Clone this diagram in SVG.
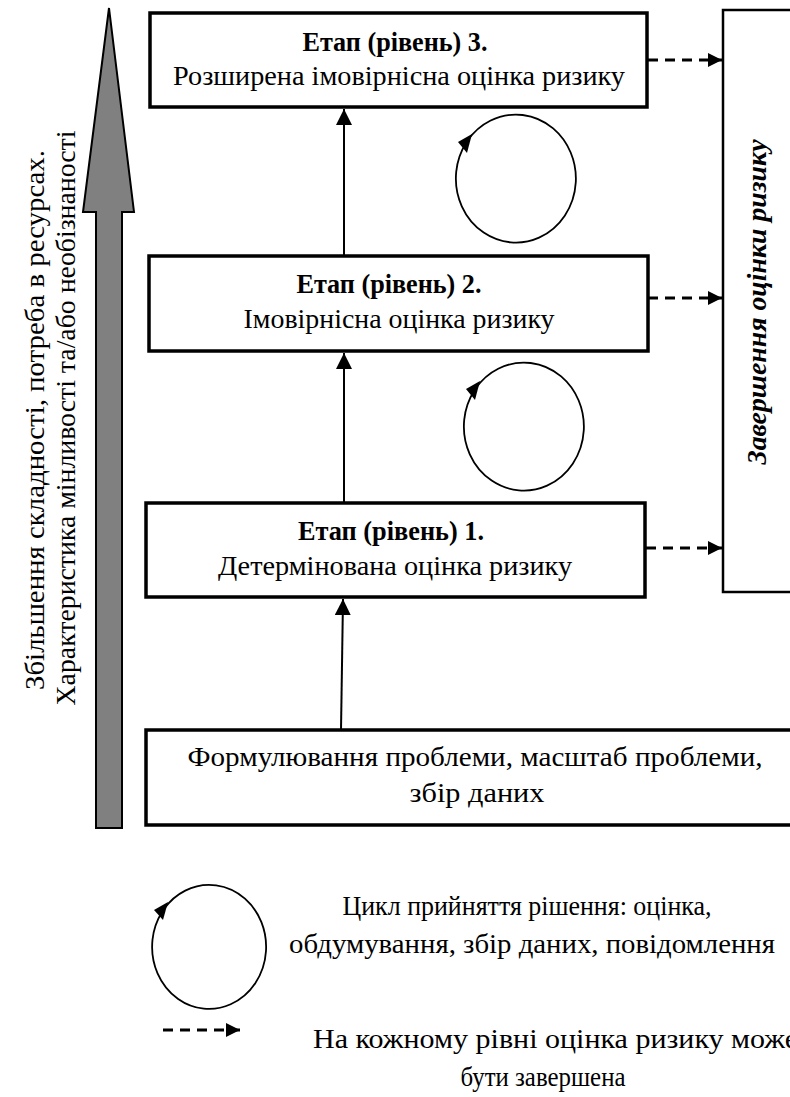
<svg xmlns="http://www.w3.org/2000/svg" width="790" height="1097" viewBox="0 0 790 1097">
<style>
.box{fill:#fff;stroke:#000;stroke-width:3.5}
.rbox{fill:#fff;stroke:#000;stroke-width:2.5}
.t{font-family:'Liberation Serif','Times New Roman',serif;font-size:28px;fill:#000}
.b{font-weight:bold}
.ln{stroke:#000;stroke-width:2;fill:none}
.dash{stroke:#000;stroke-width:3;fill:none;stroke-dasharray:10 7}
.cyc{stroke:#000;stroke-width:1.8;fill:none}
</style>
<defs>
<marker id="ah" viewBox="0 0 14 14" refX="14" refY="7" markerWidth="14" markerHeight="14" markerUnits="userSpaceOnUse" orient="auto">
<path d="M0,0 L14,7 L0,14 Z" fill="#000"/>
</marker>
<marker id="ahs" viewBox="0 0 16 16" refX="16" refY="8" markerWidth="16" markerHeight="16" markerUnits="userSpaceOnUse" orient="auto">
<path d="M0,0 L16,8 L0,16 Z" fill="#000"/>
</marker>
</defs>
<rect width="790" height="1097" fill="#fff"/>

<g id="big-arrow">
<polygon points="109,8 134,212 122,212 122,828 96,828 96,212 83,212" fill="#808080" stroke="#000" stroke-width="2" stroke-linejoin="miter"/>
</g>
<g id="side-text">
<text class="t" transform="translate(44,420) rotate(-90)" text-anchor="middle" textLength="540" lengthAdjust="spacingAndGlyphs">Збільшення складності, потреба в ресурсах.</text>
<text class="t" transform="translate(75,418) rotate(-90)" text-anchor="middle" textLength="575" lengthAdjust="spacingAndGlyphs">Характеристика мінливості та/або необізнаності</text>
</g>

<g id="stage3">
<rect class="box" x="150" y="13" width="497" height="94"/>
<text class="t b" x="395" y="51" text-anchor="middle" textLength="185" lengthAdjust="spacingAndGlyphs">Етап (рівень) 3.</text>
<text class="t" x="399" y="85" text-anchor="middle" textLength="452" lengthAdjust="spacingAndGlyphs">Розширена імовірнісна оцінка ризику</text>
</g>
<g id="stage2">
<rect class="box" x="149" y="256" width="499" height="95"/>
<text class="t b" x="389" y="293" text-anchor="middle" textLength="185" lengthAdjust="spacingAndGlyphs">Етап (рівень) 2.</text>
<text class="t" x="399" y="328" text-anchor="middle" textLength="311" lengthAdjust="spacingAndGlyphs">Імовірнісна оцінка ризику</text>
</g>
<g id="stage1">
<rect class="box" x="146" y="503" width="499" height="94"/>
<text class="t b" x="391" y="540" text-anchor="middle" textLength="186" lengthAdjust="spacingAndGlyphs">Етап (рівень) 1.</text>
<text class="t" x="395" y="575" text-anchor="middle" textLength="354" lengthAdjust="spacingAndGlyphs">Детермінована оцінка ризику</text>
</g>
<g id="problem">
<rect class="box" x="146" y="730" width="650" height="95"/>
<text class="t" x="475" y="766" text-anchor="middle" textLength="575" lengthAdjust="spacingAndGlyphs">Формулювання проблеми, масштаб проблеми,</text>
<text class="t" x="477" y="802" text-anchor="middle" textLength="135" lengthAdjust="spacingAndGlyphs">збір даних</text>
</g>
<g id="completion">
<rect class="rbox" x="723" y="10" width="80" height="582"/>
<text class="t b" font-style="italic" transform="translate(766,302) rotate(-90)" text-anchor="middle" textLength="325" lengthAdjust="spacingAndGlyphs">Завершення оцінки ризику</text>
</g>

<g id="cycle1">
<path class="cyc" d="M468,140 A60,64 0 1 1 466,143"/>
<path d="M472,134 L458,142 L467,153 Z" fill="#000"/>
</g>
<g id="cycle2">
<path class="cyc" d="M476,388 A60,64 0 1 1 474,391"/>
<path d="M480,381 L466,389 L475,400 Z" fill="#000"/>
</g>

<g id="connectors">
<line class="ln" x1="341" y1="730" x2="343" y2="599" marker-end="url(#ahs)"/>
<line class="ln" x1="344" y1="503" x2="344" y2="353" marker-end="url(#ahs)"/>
<line class="ln" x1="344" y1="256" x2="344" y2="109" marker-end="url(#ahs)"/>
<line class="dash" x1="648" y1="60" x2="722" y2="60" marker-end="url(#ah)"/>
<line class="dash" x1="648" y1="298" x2="722" y2="298" marker-end="url(#ah)"/>
<line class="dash" x1="646" y1="548" x2="722" y2="548" marker-end="url(#ah)"/>
</g>

<g id="legend-cycle">
<path class="cyc" d="M164,909 A57,62 0 1 1 162,912"/>
<path d="M168,902 L154,910 L163,920 Z" fill="#000"/>
<text class="t" x="527" y="915" text-anchor="middle" textLength="369" lengthAdjust="spacingAndGlyphs">Цикл прийняття рішення: оцінка,</text>
<text class="t" x="532" y="953" text-anchor="middle" textLength="486" lengthAdjust="spacingAndGlyphs">обдумування, збір даних, повідомлення</text>
</g>
<g id="legend-dash">
<line class="dash" x1="163" y1="1030" x2="240" y2="1030" stroke-dasharray="8 6" marker-end="url(#ah)"/>
<text class="t" x="313" y="1048" textLength="485" lengthAdjust="spacingAndGlyphs">На кожному рівні оцінка ризику може</text>
<text class="t" x="543" y="1086" text-anchor="middle" textLength="165" lengthAdjust="spacingAndGlyphs">бути завершена</text>
</g>
</svg>
